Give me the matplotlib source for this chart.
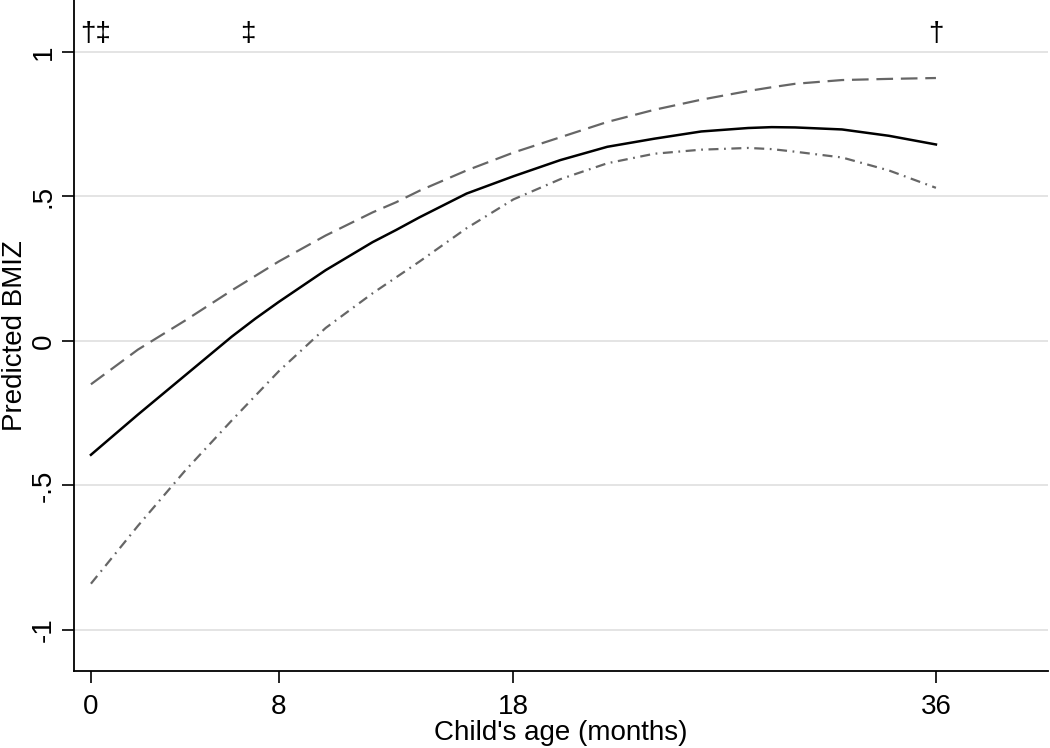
"""
Predicted BMIZ by child's age, with upper / lower curves.
"""

import matplotlib
matplotlib.use("Agg")
import matplotlib.pyplot as plt

plt.rcParams["font.family"] = ["Liberation Sans", "DejaVu Sans"]

# ages (months) at which the curves are drawn
age = [0, 2, 4, 6, 7, 8, 10, 12, 13, 14, 16, 18, 20, 22, 24, 26, 28, 29, 30, 32, 34, 36]

bmiz_mid = [-0.394, -0.255, -0.12, 0.015, 0.077, 0.135, 0.245, 0.342, 0.384, 0.428, 0.51,
            0.57, 0.626, 0.672, 0.70, 0.725, 0.737, 0.740, 0.739, 0.732, 0.71, 0.68]
bmiz_upper = [-0.15, -0.03, 0.07, 0.175, 0.225, 0.275, 0.365, 0.445, 0.48, 0.52, 0.59,
              0.652, 0.705, 0.758, 0.80, 0.835, 0.865, 0.878, 0.89, 0.903, 0.907, 0.91]
bmiz_lower = [-0.84, -0.64, -0.45, -0.275, -0.19, -0.105, 0.045, 0.165, 0.22, 0.275, 0.39,
              0.49, 0.56, 0.615, 0.648, 0.662, 0.668, 0.664, 0.655, 0.635, 0.59, 0.53]

# significance markers above the curves
mark_x = [0.2, 6.7, 36]
mark_txt = ["\u2020\u2021", "\u2021", "\u2020"]
mark_y = 1.062

xticks = [0, 8, 18, 36]
yticks = [-1, -0.5, 0, 0.5, 1]
ytick_labels = ["-1", "-.5", "0", ".5", "1"]


def main():
    fig = plt.figure(figsize=(10.5, 7.48), dpi=100)
    ax = fig.add_axes([0.0705, 0.103, 0.9275, 0.897])

    ax.plot(age, bmiz_upper, color="#666666", lw=1.6,
            linestyle=(0, (7.5, 3.5)))
    ax.plot(age, bmiz_mid, color="black", lw=1.8)
    ax.plot(age, bmiz_lower, color="#666666", lw=1.6,
            linestyle=(0, (4.5, 2.5, 0.8, 2.5)))

    for x, t in zip(mark_x, mark_txt):
        ax.text(x, mark_y, t, ha="center", va="center", fontsize=20)

    ax.set_xlim(-0.72, 40.77)
    ax.set_ylim(-1.142, 1.18)
    ax.set_xticks(xticks)
    ax.set_yticks(yticks)
    ax.set_yticklabels(ytick_labels, rotation=90, va="center")

    ax.grid(axis="y", color="#e2e2e2", lw=1.3)
    ax.set_axisbelow(True)
    for side in ["top", "right"]:
        ax.spines[side].set_visible(False)
    for side in ["left", "bottom"]:
        ax.spines[side].set_linewidth(1.3)

    ax.tick_params(axis="both", length=8.5, width=1.2, labelsize=20, pad=4)
    ax.tick_params(axis="x", pad=8)

    ax.set_xlabel("Child's age (months)", fontsize=20, labelpad=0)
    ax.set_ylabel("Predicted BMIZ", fontsize=20, labelpad=2)

    fig.savefig("out.png", dpi=100)


if __name__ == "__main__":
    main()
